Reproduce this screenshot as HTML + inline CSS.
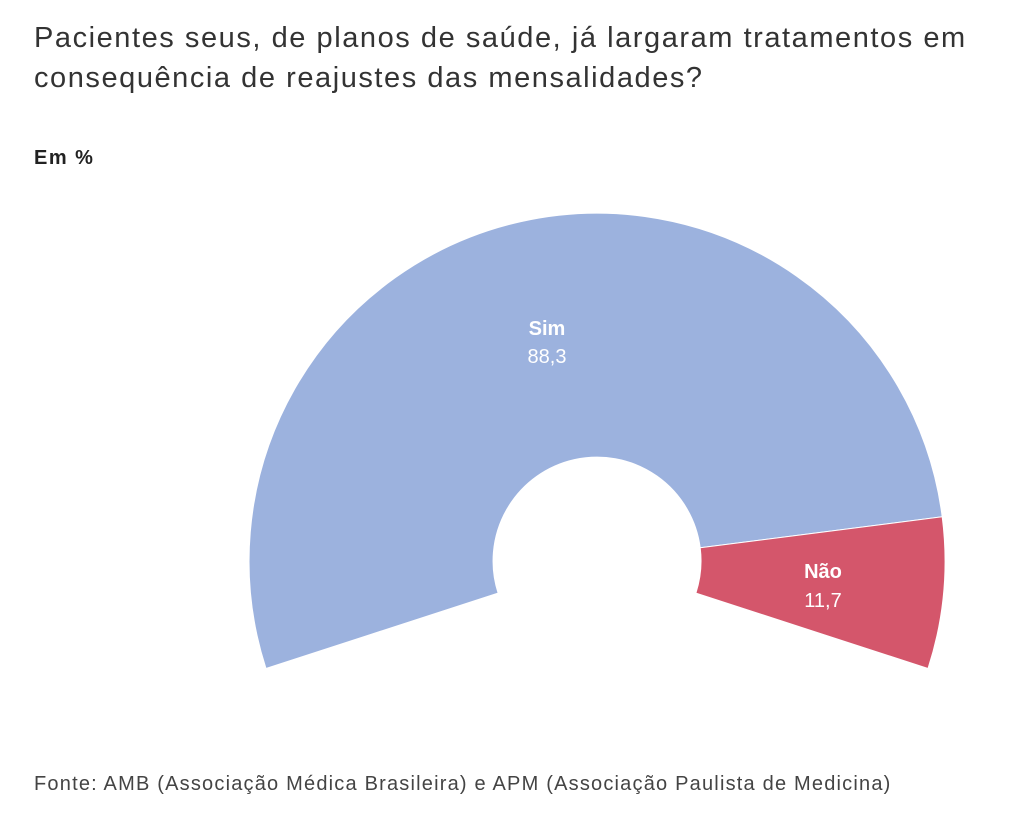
<!DOCTYPE html>
<html><head><meta charset="utf-8"><style>
html,body{margin:0;padding:0;background:#fff;width:1023px;height:835px;overflow:hidden;font-family:"Liberation Sans","DejaVu Sans",sans-serif;}
.t{position:absolute;left:34px;top:18px;font-size:29px;line-height:40px;color:#333;letter-spacing:1.55px;}
.em{position:absolute;left:34px;top:147px;font-size:20px;font-weight:bold;color:#222;letter-spacing:1.5px;}
.f{position:absolute;left:34px;top:773px;font-size:20px;color:#444;letter-spacing:1.2px;}
svg{position:absolute;left:0;top:0;}
</style></head><body>
<div class="t">Pacientes seus, de planos de saúde, já largaram tratamentos em<br>consequência de reajustes das mensalidades?</div>
<div class="em">Em %</div>
<svg width="1023" height="835">
<path d="M266,668.5 A348,348 0 1 1 942.2,516.8 L700.2,547.8 A104,104 0 1 0 498.1,593.1 Z" fill="#9cb2de" stroke="#fff" stroke-width="1"/>
<path d="M942.2,516.8 A348,348 0 0 1 928,668.5 L695.9,593.1 A104,104 0 0 0 700.2,547.8 Z" fill="#d4566b" stroke="#fff" stroke-width="1"/>
<g font-family="Liberation Sans, DejaVu Sans, sans-serif" fill="#fff" text-anchor="middle" font-size="20">
<text x="547" y="335" font-weight="bold">Sim</text>
<text x="547" y="363">88,3</text>
<text x="823" y="578" font-weight="bold">Não</text>
<text x="823" y="607">11,7</text>
</g>
</svg>
<div class="f">Fonte: AMB (Associação Médica Brasileira) e APM (Associação Paulista de Medicina)</div>
</body></html>
